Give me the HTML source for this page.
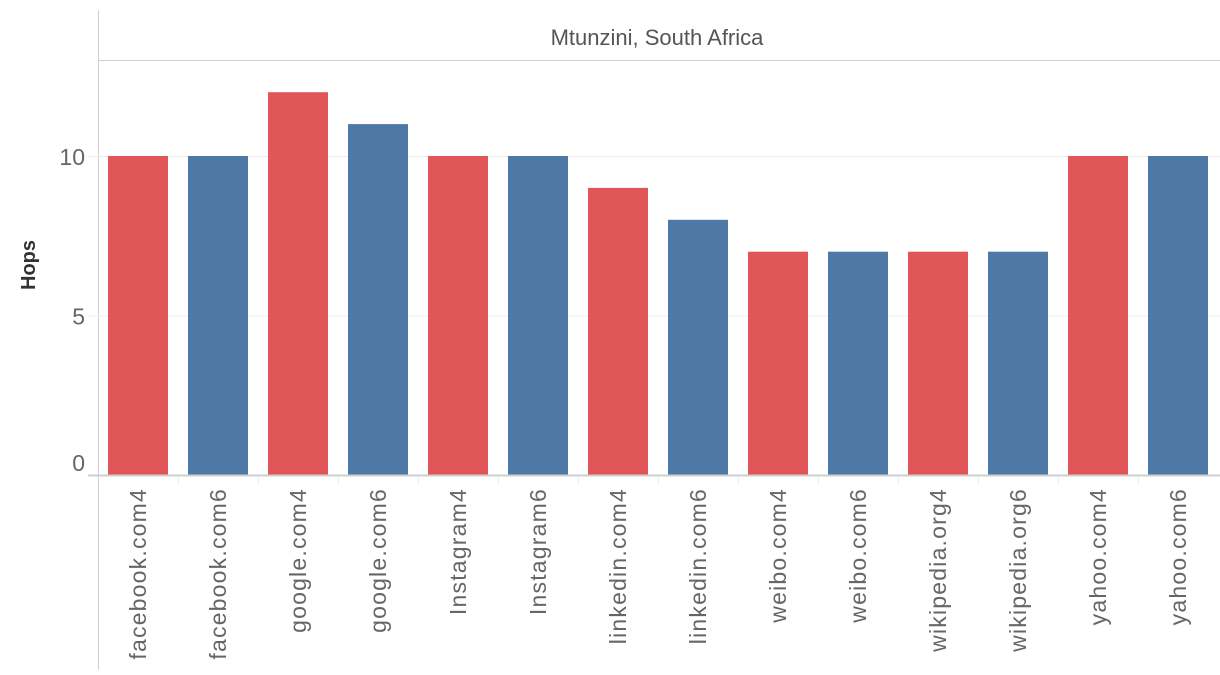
<!DOCTYPE html>
<html><head><meta charset="utf-8"><style>
body{margin:0;background:#fff;font-family:"Liberation Sans",sans-serif;}
</style></head><body>
<svg width="1220" height="670">
<line x1="98.5" y1="10" x2="98.5" y2="670" stroke="#cfcfcf"/>
<line x1="98" y1="60.5" x2="1220" y2="60.5" stroke="#cfcfcf"/>
<text x="657" y="45" text-anchor="middle" font-size="22" fill="#555">Mtunzini, South Africa</text>
<text transform="translate(35,265) rotate(-90)" text-anchor="middle" font-size="20" font-weight="bold" fill="#333">Hops</text>
<g id="grid"></g><g id="bars"></g><g id="xl"></g>
<line x1="88" y1="475.5" x2="1220" y2="475.5" stroke="#cfcfcf" stroke-width="2"/>
</svg>
<script>
const categories=["facebook.com4","facebook.com6","google.com4","google.com6","Instagram4","Instagram6","linkedin.com4","linkedin.com6","weibo.com4","weibo.com6","wikipedia.org4","wikipedia.org6","yahoo.com4","yahoo.com6"];
const hops=[10,10,12,11,10,10,9,8,7,7,7,7,10,10];
const ticks=[0,5,10];
const NS="http://www.w3.org/2000/svg";
const y=v=>475-v*31.9;
const x0=98,slot=80,bw=60;
function mk(t,a,p){const e=document.createElementNS(NS,t);for(const k in a)e.setAttribute(k,a[k]);p.appendChild(e);return e;}
const g=document.getElementById('grid'),b=document.getElementById('bars'),xl=document.getElementById('xl');
ticks.forEach(t=>{
 if(t>0){const l=mk('line',{x1:88,x2:1220,y1:y(t)+0.5,y2:y(t)+0.5,stroke:'#ececec'},g);
 
 }
 const tx=mk('text',{x:85,y:y(t)+(t==0?-4:9),'text-anchor':'end','font-size':23,fill:'#666'},g);
 tx.textContent=t;
 
 
});
categories.forEach((c,i)=>{
 const r=mk('rect',{x:x0+i*slot+10,y:y(hops[i]),width:bw,height:475-y(hops[i]),fill:i%2?'#4e79a7':'#e15759'},b);
 
 
 if(i>0){const s=mk('line',{x1:x0+i*slot+0.5,x2:x0+i*slot+0.5,y1:477,y2:485,stroke:'#eee'},xl);
 
 }
 const cx=x0+i*slot+40;
 const t=mk('text',{transform:`translate(${cx+8},488) rotate(-90)`,'text-anchor':'end','font-size':23,'letter-spacing':'1.2',fill:'#666'},xl);
 t.textContent=c;
 
 
});
</script>
</body></html>
